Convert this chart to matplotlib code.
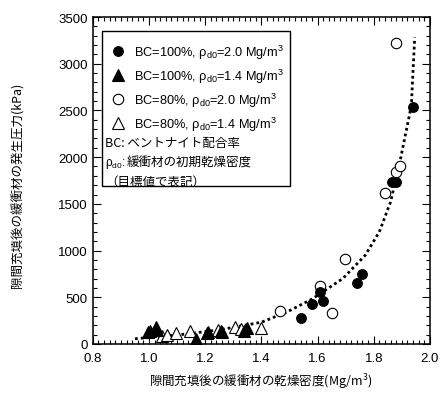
import matplotlib
matplotlib.use('Agg')
import matplotlib.pyplot as plt
import matplotlib.patches as patches
from matplotlib.ticker import MultipleLocator

plt.rcParams['font.family'] = ['Liberation Sans', 'Noto Sans CJK JP']
plt.rcParams['mathtext.fontset'] = 'custom'
plt.rcParams['mathtext.rm'] = 'Liberation Sans'
plt.rcParams['mathtext.it'] = 'Liberation Sans:italic'
plt.rcParams['mathtext.bf'] = 'Liberation Sans:bold'
JP = ['Noto Sans CJK JP', 'DejaVu Sans']

# BC=100%, rho_d0=2.0 (filled circles)
bc100_20_x = [1.54, 1.58, 1.61, 1.62, 1.74, 1.76, 1.865, 1.88, 1.94]
bc100_20_y = [275, 428, 553, 464, 653, 750, 1738, 1738, 2534]
# BC=100%, rho_d0=1.4 (filled triangles)
bc100_14_x = [0.995, 1.005, 1.024, 1.03, 1.169, 1.205, 1.21, 1.255, 1.26, 1.337, 1.349]
bc100_14_y = [125, 143, 178, 150, 54, 118, 125, 143, 130, 143, 168]
# BC=80%, rho_d0=2.0 (open circles)
bc80_20_x = [1.468, 1.608, 1.652, 1.697, 1.839, 1.88, 1.893, 1.878]
bc80_20_y = [357, 624, 328, 910, 1617, 1838, 1909, 3219]
# BC=80%, rho_d0=1.4 (open triangles)
bc80_14_x = [1.045, 1.065, 1.095, 1.145, 1.246, 1.305, 1.329, 1.40]
bc80_14_y = [89, 96, 118, 143, 153, 178, 160, 168]
# dotted trend curve
curve_x = [0.95, 1.10, 1.25, 1.40, 1.49, 1.58, 1.69, 1.77, 1.82, 1.86, 1.893, 1.934, 1.946]
curve_y = [55, 95, 150, 232, 340, 480, 700, 950, 1200, 1520, 1945, 2552, 3283]

labels = [r'BC=100%, $\mathregular{\rho_{d0}}$=2.0 Mg/m$^\mathregular{3}$',
          r'BC=100%, $\mathregular{\rho_{d0}}$=1.4 Mg/m$^\mathregular{3}$',
          r'BC=80%, $\mathregular{\rho_{d0}}$=2.0 Mg/m$^\mathregular{3}$',
          r'BC=80%, $\mathregular{\rho_{d0}}$=1.4 Mg/m$^\mathregular{3}$']

fig = plt.figure(figsize=(4.4, 4.02), dpi=100)
ax = fig.add_axes([0.211, 0.142, 0.766, 0.813])

ax.plot(curve_x, curve_y, color='black', lw=2.0, linestyle=(0, (1, 1.1)), zorder=1)

h1, = ax.plot(bc100_20_x, bc100_20_y, 'o', ms=7, mfc='black', mec='black', mew=0.8, label=labels[0], zorder=3)
h2, = ax.plot(bc100_14_x, bc100_14_y, '^', ms=8, mfc='black', mec='black', mew=0.8, label=labels[1], zorder=3)
h3, = ax.plot(bc80_20_x, bc80_20_y, 'o', ms=7.5, mfc='white', mec='black', mew=0.8, label=labels[2], zorder=2)
h4, = ax.plot(bc80_14_x, bc80_14_y, '^', ms=8.5, mfc='white', mec='black', mew=0.8, label=labels[3], zorder=2)

ax.set_xlim(0.8, 2.0)
ax.set_ylim(0, 3500)
ax.xaxis.set_major_locator(MultipleLocator(0.2))
ax.xaxis.set_minor_locator(MultipleLocator(0.02))
ax.yaxis.set_major_locator(MultipleLocator(500))
ax.yaxis.set_minor_locator(MultipleLocator(100))
ax.xaxis.set_major_formatter(matplotlib.ticker.FormatStrFormatter('%.1f'))
ax.tick_params(which='both', direction='in', top=True, right=True, labelsize=9.5, width=0.8)
ax.tick_params(which='major', length=6)
ax.tick_params(which='minor', length=3)
ax.tick_params(axis='x', pad=6)
for s in ax.spines.values():
    s.set_linewidth(1.1)

# legend box
ax.add_patch(patches.Rectangle((0.027, 0.483), 0.558, 0.474, transform=ax.transAxes,
                               facecolor='white', edgecolor='black', lw=1.0, zorder=4))
leg = ax.legend(handles=[h1, h2, h3, h4], loc='upper left', bbox_to_anchor=(0.055, 0.922),
                frameon=False, fontsize=9.2, handletextpad=0.75, labelspacing=0.45,
                handlelength=1.0, borderaxespad=0, borderpad=0)
leg.set_zorder(5)

ax.text(0.036, 0.615, 'BC: ベントナイト配合率', transform=ax.transAxes, family=JP,
        fontsize=9, va='center', zorder=6)
ax.text(0.036, 0.555, r'$\mathregular{\rho_{d0}}$:', transform=ax.transAxes,
        fontsize=8.5, va='center', zorder=6)
ax.text(0.1, 0.555, '緩衝材の初期乾燥密度', transform=ax.transAxes, family=JP,
        fontsize=9, va='center', zorder=6)
ax.text(0.036, 0.498, '（目標値で表記）', transform=ax.transAxes, family=JP,
        fontsize=9, va='center', zorder=6)

fig.text(18 / 440, 1 - 185 / 402, '隙間充填後の緩衝材の発生圧力(kPa)', family=JP,
         fontsize=9, rotation=90, ha='center', va='center')
fig.text(261 / 440, 1 - 382 / 402, '隙間充填後の緩衝材の乾燥密度(Mg/m$^\\mathregular{3}$)', family=JP,
         fontsize=9, ha='center', va='center')

fig.savefig('out.png', dpi=100, facecolor='white')
